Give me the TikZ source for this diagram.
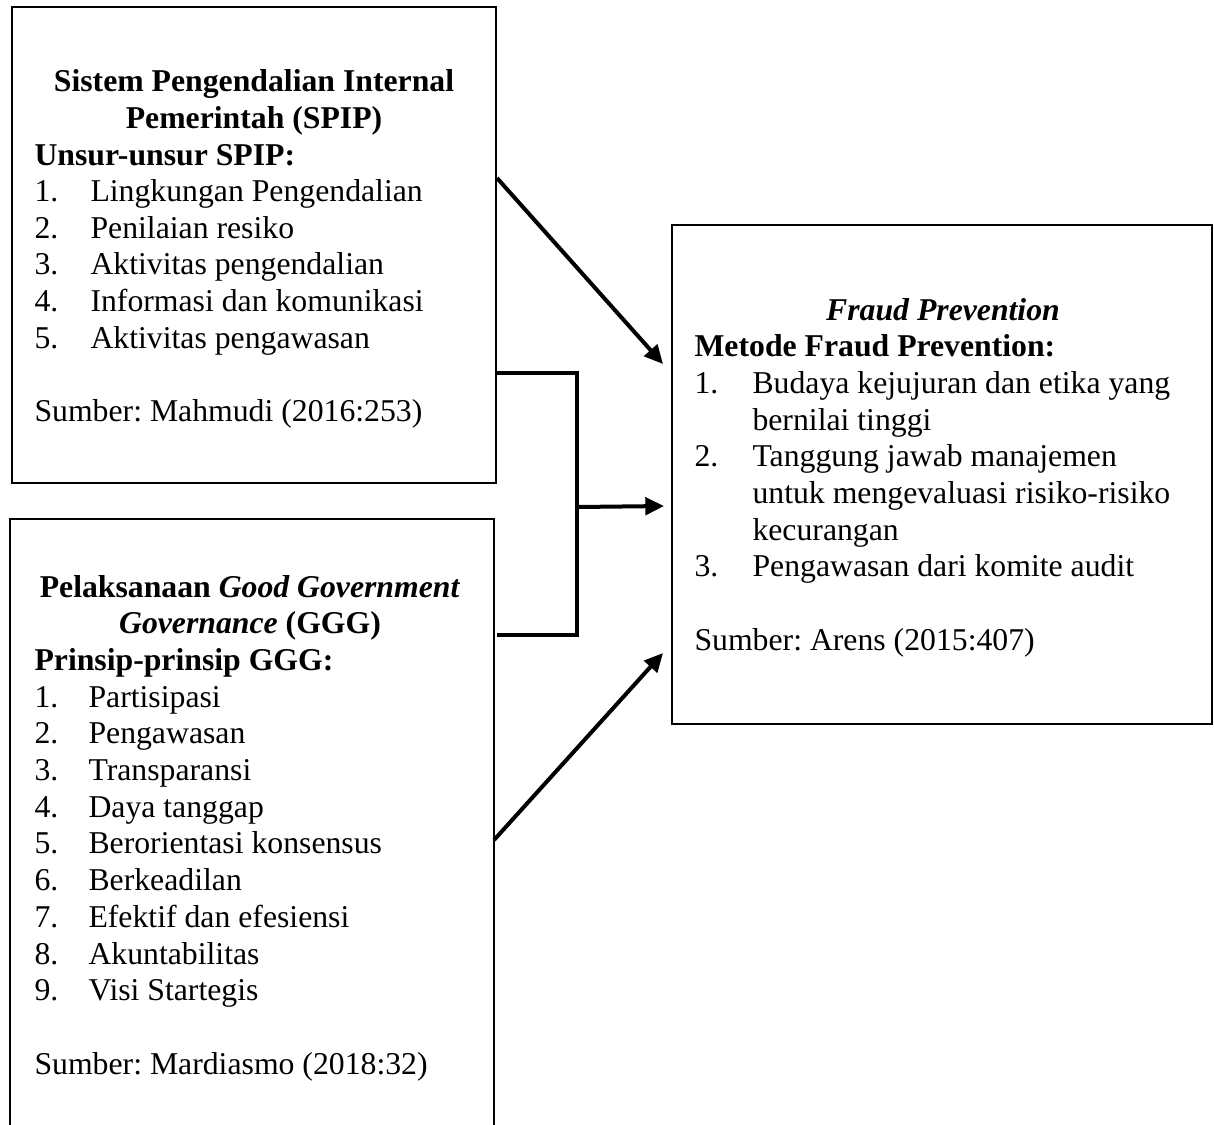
\documentclass[tikz,border=0pt]{standalone}
\usepackage{fontspec}
\setmainfont{Liberation Serif}
\usetikzlibrary{arrows.meta,fit}
\frenchspacing
\begin{document}
\begin{tikzpicture}[x=0.375pt,y=-0.375pt,
  box/.style={draw,line width=0.8pt,inner sep=0pt,fit={#1}},
  txt/.style={anchor=base west,inner sep=0pt,font=\fontsize{11.9}{13.7}\selectfont},
  ctr/.style={anchor=base,inner sep=0pt,font=\fontsize{11.9}{13.7}\selectfont\bfseries},
  conn/.style={line width=1.5pt},
  arr/.style={line width=1.5pt,-{Triangle[length=7pt,width=6.5pt]}}]
\useasboundingbox (0,0) rectangle (1214,1124);
% boxes
\node (spip) [box={(12,7) (496,483)}] {};
\node (ggg) [box={(10,519) (494,1160)}] {};
\node (fraud) [box={(672,225) (1212,724)}] {};
% SPIP text
\node (a0) [ctr] at (254,91.8) {Sistem Pengendalian Internal};
\node (a1) [ctr] at (254,128.4) {Pemerintah (SPIP)};
\node (a2) [txt,font=\fontsize{11.9}{13.7}\selectfont\bfseries] at (34,165) {Unsur-unsur SPIP:};
\node (a3n) [txt] at (34,201.6) {1.}; \node (a3) [txt] at (90,201.6) {Lingkungan Pengendalian};
\node (a4n) [txt] at (34,238.2) {2.}; \node (a4) [txt] at (90,238.2) {Penilaian resiko};
\node (a5n) [txt] at (34,274.8) {3.}; \node (a5) [txt] at (90,274.8) {Aktivitas pengendalian};
\node (a6n) [txt] at (34,311.4) {4.}; \node (a6) [txt] at (90,311.4) {Informasi dan komunikasi};
\node (a7n) [txt] at (34,348) {5.}; \node (a7) [txt] at (90,348) {Aktivitas pengawasan};
\node (a8) [txt] at (34,421.2) {Sumber: Mahmudi (2016:253)};
% GGG text
\node (b0) [ctr] at (250,597) {Pelaksanaan \textit{Good Government}};
\node (b1) [ctr] at (250,633.7) {\textit{Governance} (GGG)};
\node (b2) [txt,font=\fontsize{11.9}{13.7}\selectfont\bfseries] at (34,670.4) {Prinsip-prinsip GGG:};
\node (b3n) [txt] at (34,707.1) {1.}; \node (b3) [txt] at (88,707.1) {Partisipasi};
\node (b4n) [txt] at (34,743.8) {2.}; \node (b4) [txt] at (88,743.8) {Pengawasan};
\node (b5n) [txt] at (34,780.5) {3.}; \node (b5) [txt] at (88,780.5) {Transparansi};
\node (b6n) [txt] at (34,817.2) {4.}; \node (b6) [txt] at (88,817.2) {Daya tanggap};
\node (b7n) [txt] at (34,853.9) {5.}; \node (b7) [txt] at (88,853.9) {Berorientasi konsensus};
\node (b8n) [txt] at (34,890.6) {6.}; \node (b8) [txt] at (88,890.6) {Berkeadilan};
\node (b9n) [txt] at (34,927.3) {7.}; \node (b9) [txt] at (88,927.3) {Efektif dan efesiensi};
\node (b10n) [txt] at (34,964) {8.}; \node (b10) [txt] at (88,964) {Akuntabilitas};
\node (b11n) [txt] at (34,1000.7) {9.}; \node (b11) [txt] at (88,1000.7) {Visi Startegis};
\node (b12) [txt] at (34,1074.1) {Sumber: Mardiasmo (2018:32)};
% Fraud text
\node (c0) [ctr] at (943,320) {\textit{Fraud Prevention}};
\node (c1) [txt,font=\fontsize{11.9}{13.7}\selectfont\bfseries] at (694,356.7) {Metode Fraud Prevention:};
\node (c2n) [txt] at (694,393.4) {1.}; \node (c2) [txt] at (752,393.4) {Budaya kejujuran dan etika yang};
\node (c3) [txt] at (752,430.1) {bernilai tinggi};
\node (c4n) [txt] at (694,466.8) {2.}; \node (c4) [txt] at (752,466.8) {Tanggung jawab manajemen};
\node (c5) [txt] at (752,503.5) {untuk mengevaluasi risiko-risiko};
\node (c6) [txt] at (752,540.2) {kecurangan};
\node (c7n) [txt] at (694,576.9) {3.}; \node (c7) [txt] at (752,576.9) {Pengawasan dari komite audit};
\node (c8) [txt] at (694,650.3) {Sumber: Arens (2015:407)};
% connector points
\coordinate (s1) at (497,178);
\coordinate (e1) at (663,364);
\coordinate (bt) at (497,373);
\coordinate (bb) at (497,635);
\coordinate (jt) at (577,373);
\coordinate (jb) at (577,635);
\coordinate (jm) at (577,507);
\coordinate (e2) at (664,506);
\coordinate (s3) at (494,840);
\coordinate (e3) at (663,653);
% connectors
\draw[arr] (s1) -- (e1);
\draw[conn] (bt) -- (jt) -- (jb) -- (bb);
\draw[arr] (jm) -- (e2);
\draw[arr] (s3) -- (e3);
\end{tikzpicture}
\end{document}
